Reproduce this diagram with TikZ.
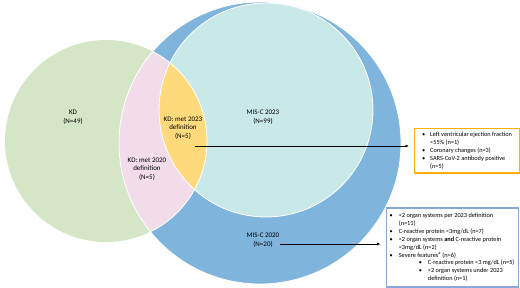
\documentclass[tikz,border=0pt]{standalone}
\usepackage{fontspec}
\setmainfont{Carlito}
\usetikzlibrary{arrows.meta}
\definecolor{kdgreen}{HTML}{D5E6C6}
\definecolor{lenspink}{HTML}{F3DCEA}
\definecolor{lensyellow}{HTML}{FFDA7C}
\definecolor{misccyan}{HTML}{C9E8E8}
\definecolor{miscblue}{HTML}{7FB4DD}
\definecolor{boxorange}{HTML}{FFB000}
\definecolor{boxblue}{HTML}{8AA6DA}
\tikzset{
  lbl/.style={align=center, font=\fontsize{7}{8.6}\selectfont, inner sep=0pt},
  infobox/.style={draw, line width=1.1pt, fill=white, inner xsep=3.5pt, inner ysep=2pt, anchor=north west, font=\fontsize{6.3}{8.1}\selectfont},
  pointer/.style={-{Latex[length=3.5pt,width=3pt]}, line width=0.9pt, black},
  venn/.style={draw=white, line width=0.8pt}
}
\begin{document}
\begin{tikzpicture}[x=1pt,y=-1pt]
\useasboundingbox (0,0) rectangle (520,288);
% circles
\fill[miscblue] (260,143) circle (141);
\fill[kdgreen] (106,141) circle (101);
\fill[misccyan] (266,110) circle (107);
\begin{scope}
  \clip (106,141) circle (101);
  \fill[lenspink] (260,143) circle (141);
  \fill[lensyellow] (266,110) circle (107);
\end{scope}
\draw[venn] (260,143) circle (141);
\draw[venn] (266,110) circle (107);
\begin{scope}
  \clip (260,143) circle (141);
  \draw[venn] (106,141) circle (101);
\end{scope}
% labels
\node[lbl] (kd) at (73,117) {KD\\(N=49)};
\node[lbl] (m23) at (263,117) {MIS-C 2023\\(N=99)};
\node[lbl] (kd23) at (183,128) {KD: met 2023\\definition\\(N=5)};
\node[lbl] (kd20) at (147,169) {KD: met 2020\\definition\\(N=5)};
\node[lbl] (m20) at (263,240) {MIS-C 2020\\(N=20)};
% boxes
\node[infobox, draw=boxorange, minimum width=105pt, minimum height=44pt] (obox) at (414,128) {%
\begin{tabular}{@{}l@{\hspace{5pt}}l@{}}
\textbullet & Left ventricular ejection fraction\\
 & <55\% (n=1)\\
\textbullet & Coronary changes (n=3)\\
\textbullet & SARS-CoV-2 antibody positive\\
 & (n=5)
\end{tabular}};
\node[infobox, draw=boxblue, minimum width=132pt, minimum height=79pt, font=\fontsize{6.3}{7.9}\selectfont] (bbox) at (385.5,207.5) {%
\begin{tabular}{@{}l@{\hspace{6pt}}l@{\hspace{6pt}}l@{}}
\textbullet & \multicolumn{2}{@{}l@{}}{<2 organ systems per 2023 definition}\\
 & \multicolumn{2}{@{}l@{}}{(n=11)}\\
\textbullet & \multicolumn{2}{@{}l@{}}{C-reactive protein <3mg/dL (n=7)}\\
\textbullet & \multicolumn{2}{@{}l@{}}{<2 organ systems \textbf{and} C-reactive protein}\\
 & \multicolumn{2}{@{}l@{}}{<3mg/dL (n=2)}\\
\textbullet & \multicolumn{2}{@{}l@{}}{Severe features\textsuperscript{a} (n=6)}\\
 & \hspace{20pt}\textbullet & C-reactive protein <3 mg/dL (n=5)\\
 & \hspace{20pt}\textbullet & <2 organ systems under 2023\\
 & & definition (n=1)
\end{tabular}};
% pointers
\coordinate (p23) at (195,146);
\coordinate (p20) at (280,244);
\draw[pointer, shorten >=5pt] (p23) -- (p23 -| obox.west);
\draw[pointer, shorten >=5pt] (p20) -- (p20 -| bbox.west);
\end{tikzpicture}
\end{document}
